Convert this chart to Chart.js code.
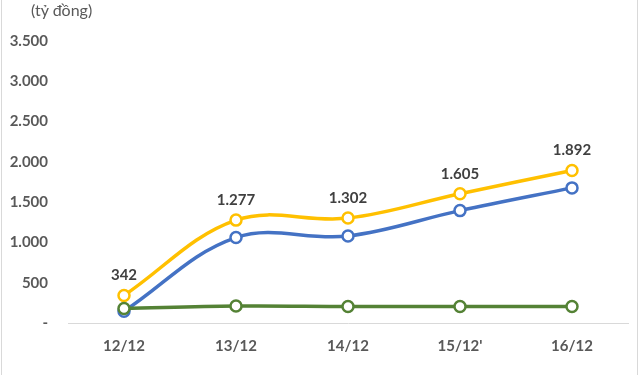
<!DOCTYPE html>
<html>
<head>
<meta charset="utf-8">
<script src="https://cdn.jsdelivr.net/npm/chart.js@4"></script>
<style>
  html, body { margin: 0; padding: 0; background: #fff; }
  #wrap { position: relative; width: 640px; height: 375px; }
  #unit {
    position: absolute; left: 31px; top: 0px;
    font: 16px Lato, sans-serif; color: #595959;
  }
  .edge { position: absolute; top: 0; width: 1px; height: 375px; background: #d9d9d9; }
</style>
</head>
<body>
<div id="wrap">
  <canvas id="chart" width="640" height="375"></canvas>
  <div id="unit">(tỷ đồng)</div>
  <div class="edge" style="left:1px"></div>
  <div class="edge" style="left:637px"></div>
</div>
<script>
// values
const days = ['12/12', '13/12', '14/12', '15/12\'', '16/12'];
const total = [342, 1277, 1302, 1605, 1892];
const blueSeries = [145, 1060, 1080, 1395, 1677];
const greenSeries = [180, 210, 205, 205, 205];
const yMax = 3500;
const yStep = 500;

const fmt = (v) => (v === 0 ? '-' : String(v).replace(/\B(?=(\d{3})+(?!\d))/g, '.'));

// labels above the yellow line
const valueLabels = {
  id: 'valueLabels',
  afterDatasetsDraw(chart) {
    const { ctx } = chart;
    const meta = chart.getDatasetMeta(1);
    ctx.save();
    ctx.font = 'bold 15px Lato, sans-serif';
    ctx.fillStyle = '#404040';
    ctx.textAlign = 'center';
    ctx.textBaseline = 'middle';
    meta.data.forEach((pt, i) => {
      ctx.fillText(fmt(total[i]), pt.x, pt.y - 20);
    });
    ctx.restore();
  },
};

const line = (data, color, order) => ({
  data,
  borderColor: color,
  borderWidth: 3.5,
  tension: 0.37,
  pointRadius: 5.5,
  pointBorderWidth: 2.5,
  pointBackgroundColor: '#fff',
  pointBorderColor: color,
  order,
});

new Chart(document.getElementById('chart'), {
  type: 'line',
  data: {
    labels: days,
    datasets: [
      line(blueSeries, '#4472C4', 2),
      line(total, '#FFC000', 1),
      line(greenSeries, '#548235', 0),
    ],
  },
  options: {
    responsive: false,
    animation: false,
    layout: { padding: { top: 41, left: 8, right: 12, bottom: 0 } },
    plugins: { legend: { display: false }, tooltip: { enabled: false } },
    scales: {
      x: {
        offset: true,
        grid: { display: false, drawTicks: false },
        border: { display: true, color: '#d9d9d9', width: 1 },
        ticks: {
          color: '#595959',
          font: { family: 'Lato', size: 15, weight: 'bold' },
          padding: 14,
        },
        afterFit(scale) { scale.height = 52; },
      },
      y: {
        min: 0,
        max: yMax,
        grid: { display: false, drawTicks: false },
        border: { display: false },
        ticks: {
          stepSize: yStep,
          color: '#595959',
          font: { family: 'Lato', size: 15, weight: 'bold' },
          padding: 20,
          callback: (v) => fmt(v),
        },
        afterFit(scale) { scale.width = 60; },
      },
    },
  },
  plugins: [valueLabels],
});
</script>
</body>
</html>
